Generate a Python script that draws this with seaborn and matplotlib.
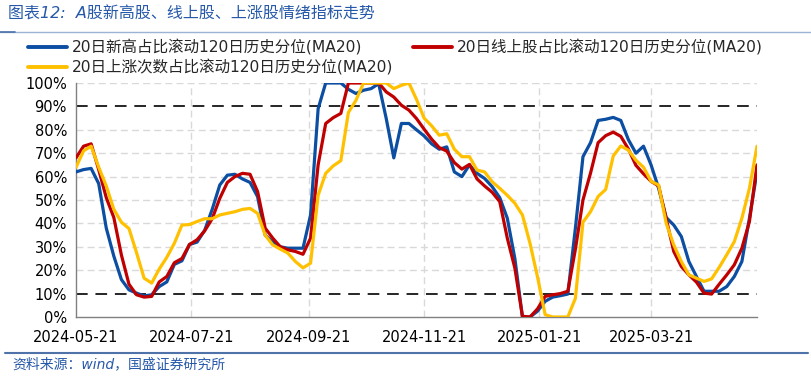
import pandas as pd
import matplotlib.pyplot as plt
import matplotlib.ticker as mticker
import matplotlib.dates as mdates
from matplotlib.lines import Line2D
import seaborn as sns

# sampled every 4 calendar days from 2024-05-21
start_date = '2024-05-21'
step_days = 4

new_high = [62, 63, 63.5, 57, 38, 26, 16, 11.6, 10.2, 9, 9.5, 13, 15, 22.5, 24,
            31, 32, 37, 46, 56.4, 60.6, 61, 59, 57.5, 51.4, 35, 32, 30, 29.4, 29.4,
            29.4, 43.6, 89, 100, 100, 100, 97.3, 95.5, 96.9, 97.6, 99.7, 84.8, 68, 82.7, 82.7,
            80, 77.4, 74, 71.7, 72.7, 62, 60, 65, 61.4, 59.2, 55.7, 51, 42.2, 25, 0,
            0, 2.5, 6.7, 8.5, 9.1, 9.8, 38, 68.5, 74.5, 84, 84.5, 85.3, 84, 75.8, 70,
            73, 65, 55, 42.5, 39.3, 34.4, 23.7, 17.3, 11, 11, 11, 13, 17.3, 23.7, 42.2,
            62]

above_ma = [68, 73, 74, 63, 51, 42.5, 26.5, 14, 9.5, 8.5, 8.8, 15, 17.3, 23.2, 25,
            31, 33, 36.8, 42, 50.7, 57.5, 60, 61.4, 61, 53.6, 38, 33.7, 30, 28.7, 28,
            26.8, 33.7, 65, 82.7, 85.2, 87, 100, 100, 100, 100, 100, 96.2, 94, 90.5, 88.4,
            84.8, 80.3, 76, 72.4, 70.9, 66, 63.2, 65.2, 59, 56, 53.3, 49.3, 33.7, 20.9, 0.3,
            0, 3.5, 8.8, 9.5, 10, 11, 29, 50, 61.5, 74.5, 77.5, 79, 77.2, 71.8, 64.8,
            61.2, 58, 56, 42, 28, 21.6, 18, 14.9, 10.2, 9.8, 14, 18, 22.3, 29.4, 40.8,
            65]

up_count = [64, 71, 73, 64, 56, 46, 40.5, 37.8, 27.5, 16.6, 14.5, 20.5, 25.5, 31.5, 39.3,
            39.5, 40.8, 42, 42, 43.6, 44.3, 45, 46, 46.4, 44.3, 35, 30.8, 29, 27.3, 23.7,
            21, 23, 52, 61.4, 64.6, 66.8, 87.4, 92.6, 100, 100, 100, 100, 97.6, 99, 100,
            93, 85, 81.7, 77.7, 78.3, 71.7, 68.5, 68.5, 62.8, 62, 57.8, 55, 52, 48.6, 43.6,
            31.5, 17, 1, 0, 0, 0, 8, 40.5, 45, 51.5, 54.5, 68.8, 73.1, 71.3, 67,
            64, 58, 56.4, 40, 30.8, 23.7, 18, 16.6, 15.2, 16.3, 21.2, 26.6, 32.2, 42.2, 55,
            73]

series_names = ['20日新高占比滚动120日历史分位(MA20)',
                '20日线上股占比滚动120日历史分位(MA20)',
                '20日上涨次数占比滚动120日历史分位(MA20)']
series_colors = ['#0B4EA2', '#C00000', '#FFC000']
tick_dates = ['2024-05-21', '2024-07-21', '2024-09-21', '2024-11-21',
              '2025-01-21', '2025-03-21']

title_text = '图表12:  A股新高股、线上股、上涨股情绪指标走势'
source_text = '资料来源：wind，国盛证券研究所'

dates = pd.date_range(start_date, periods=len(new_high), freq=f'{step_days}D')
frames = []
for name, vals in zip(series_names, [new_high, above_ma, up_count]):
    frames.append(pd.DataFrame({'date': dates, 'value': vals, 'series': name}))
df = pd.concat(frames, ignore_index=True)

sns.set_theme(style='white')
plt.rcParams['font.family'] = ['DejaVu Sans', 'Noto Sans CJK SC']

fig = plt.figure(figsize=(8.11, 3.77), dpi=100)
ax = fig.add_axes([76 / 811, 1 - 317 / 377, (757 - 76) / 811, (317 - 83) / 377])

grid_kw = dict(color='#D9D9D9', lw=1.0, dashes=(5, 3), zorder=0)
for v in range(0, 101, 10):
    if v in (10, 90):
        ax.axhline(v, color='#262626', lw=1.4, dashes=(6, 4), zorder=1)
    elif v > 0:
        ax.axhline(v, **grid_kw)
for d in tick_dates[1:]:
    ax.axvline(pd.Timestamp(d), **grid_kw)

sns.lineplot(data=df, x='date', y='value', hue='series', palette=series_colors,
             hue_order=series_names, lw=2.3, ax=ax, legend=False, zorder=3)

ax.set_xlim(dates[0], dates[-1])
ax.set_ylim(0, 100)
ax.set_yticks(range(0, 101, 10))
ax.yaxis.set_major_formatter(mticker.PercentFormatter(100, decimals=0))
ax.set_xticks([pd.Timestamp(d) for d in tick_dates])
ax.xaxis.set_major_formatter(mdates.DateFormatter('%Y-%m-%d'))
ax.set_xlabel('')
ax.set_ylabel('')
for s in ['top', 'right']:
    ax.spines[s].set_visible(False)
for s in ['left', 'bottom']:
    ax.spines[s].set_color('#808080')
    ax.spines[s].set_linewidth(1)
ax.tick_params(axis='both', labelsize=10.5, colors='black', length=3,
               width=0.8, direction='out', color='#808080')
ax.tick_params(axis='x', pad=6)

handles = [Line2D([], [], color=c, lw=2.8) for c in series_colors]
order = [0, 2, 1]
fig.legend([handles[i] for i in order], [series_names[i] for i in order],
           loc='upper left', bbox_to_anchor=(22 / 811, 1 - 33 / 377), ncol=2,
           frameon=False, fontsize=11.2, handlelength=2.5, handletextpad=0.3,
           columnspacing=1.3, labelspacing=0.3, borderaxespad=0)

fig.text(8 / 811, 1 - 14 / 377, title_text, fontsize=11.5, style='italic',
         color='#2558A8', va='center', ha='left')
fig.add_artist(Line2D([0, 1], [1 - 31.5 / 377] * 2, color='#9CB3D6', lw=1))
fig.add_artist(Line2D([0, 15 / 811], [1 - 31.5 / 377] * 2, color='#4A70A8', lw=1.2))
fig.add_artist(Line2D([5 / 811, 808 / 811], [1 - 353 / 377] * 2, color='#4F73A8', lw=1.5))
fig.text(12 / 811, 1 - 364 / 377, source_text, fontsize=10, style='italic',
         color='#2558A8', va='center', ha='left')

fig.savefig('out.png', dpi=100)
